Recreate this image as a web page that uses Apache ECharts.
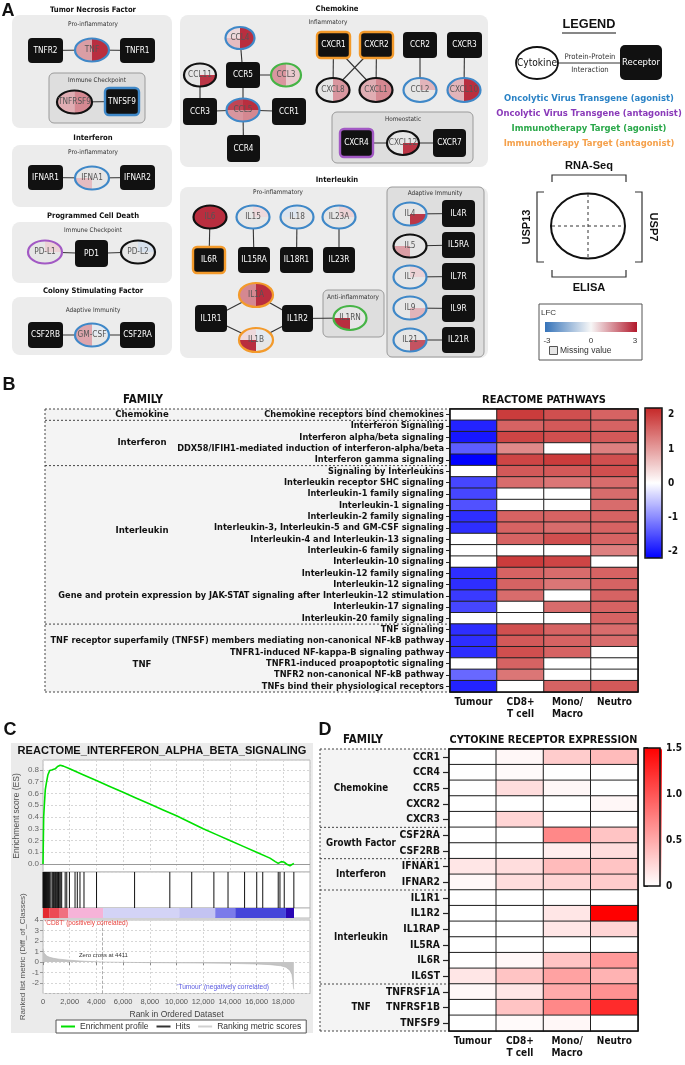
<!DOCTYPE html>
<html><head><meta charset="utf-8">
<script src="https://cdn.jsdelivr.net/npm/echarts@6/dist/echarts.min.js"></script>
<style>html,body{margin:0;padding:0;background:#fff}#c{width:685px;height:1065px}</style>
</head><body><div id="c"></div>
<script>
// ---------------- DATA ----------------
const cellTypes = ['Tumour', 'CD8+\nT cell', 'Mono/\nMacro', 'Neutro'];

const reactomePathways = [
  'Chemokine receptors bind chemokines',
  'Interferon Signaling',
  'Interferon alpha/beta signaling',
  'DDX58/IFIH1-mediated induction of interferon-alpha/beta',
  'Interferon gamma signaling',
  'Signaling by Interleukins',
  'Interleukin receptor SHC signaling',
  'Interleukin-1 family signaling',
  'Interleukin-1 signaling',
  'Interleukin-2 family signaling',
  'Interleukin-3, Interleukin-5 and GM-CSF signaling',
  'Interleukin-4 and Interleukin-13 signaling',
  'Interleukin-6 family signaling',
  'Interleukin-10 signaling',
  'Interleukin-12 family signaling',
  'Interleukin-12 signaling',
  'Gene and protein expression by JAK-STAT signaling after Interleukin-12 stimulation',
  'Interleukin-17 signaling',
  'Interleukin-20 family signaling',
  'TNF signaling',
  'TNF receptor superfamily (TNFSF) members mediating non-canonical NF-kB pathway',
  'TNFR1-induced NF-kappa-B signaling pathway',
  'TNFR1-induced proapoptotic signaling',
  'TNFR2 non-canonical NF-kB pathway',
  'TNFs bind their physiological receptors'
];
// family name, first row, last row
const reactomeFamilies = [['Chemokine', 0, 0], ['Interferon', 1, 4], ['Interleukin', 5, 18], ['TNF', 19, 24]];
// Tumour, CD8+ T cell, Mono/Macro, Neutro
const reactomeScores = [
  [0, 2.0, 1.8, 1.6],
  [-1.9, 1.6, 1.7, 1.6],
  [-2.0, 1.9, 1.8, 1.7],
  [-1.4, 1.2, 0, 1.3],
  [-2.2, 1.9, 2.0, 1.8],
  [0, 1.7, 1.7, 1.8],
  [-1.6, 1.5, 1.4, 1.5],
  [-1.6, 0, 0, 1.5],
  [-1.5, 0, 0, 1.5],
  [-1.8, 1.6, 1.6, 1.6],
  [-1.8, 1.6, 1.5, 1.6],
  [0, 1.6, 1.8, 1.6],
  [0, 0, 0, 1.3],
  [0, 2.0, 1.9, 0],
  [-1.8, 1.6, 1.5, 1.6],
  [-1.8, 1.6, 1.4, 1.6],
  [-1.7, 1.5, 0, 1.6],
  [-1.6, 0, 1.5, 1.6],
  [0, 0, 0, 1.6],
  [-1.8, 1.8, 1.6, 1.5],
  [-1.8, 1.7, 1.6, 1.5],
  [-1.8, 1.8, 1.6, 0],
  [0, 1.6, 0, 0],
  [-1.3, 1.4, 0, 0],
  [-1.9, 0, 1.6, 1.7]
];
const reactomeTicks = [-2, -1, 0, 1, 2];

const receptorGenes = ['CCR1', 'CCR4', 'CCR5', 'CXCR2', 'CXCR3', 'CSF2RA', 'CSF2RB', 'IFNAR1', 'IFNAR2',
  'IL1R1', 'IL1R2', 'IL1RAP', 'IL5RA', 'IL6R', 'IL6ST', 'TNFRSF1A', 'TNFRSF1B', 'TNFSF9'];
const receptorFamilies = [['Chemokine', 0, 4], ['Growth Factor', 5, 6], ['Interferon', 7, 8], ['Interleukin', 9, 14], ['TNF', 15, 17]];
const receptorExpression = [
  [0, 0.05, 0.3, 0.4],
  [0, 0.03, 0, 0],
  [0, 0.2, 0.05, 0],
  [0, 0, 0, 0.05],
  [0, 0.25, 0, 0],
  [0, 0, 0.7, 0.35],
  [0, 0, 0.1, 0.2],
  [0.15, 0.2, 0.4, 0.35],
  [0.05, 0.2, 0.25, 0.3],
  [0, 0, 0, 0],
  [0, 0, 0.15, 1.5],
  [0, 0, 0.15, 0.25],
  [0, 0, 0, 0],
  [0, 0.05, 0.35, 0.6],
  [0.15, 0.35, 0.55, 0.45],
  [0.05, 0.15, 0.5, 0.65],
  [0, 0.35, 0.7, 1.25],
  [0, 0.03, 0.05, 0]
];
const receptorTicks = [0, 0.5, 1.0, 1.5];

// GSEA: REACTOME_INTERFERON_ALPHA_BETA_SIGNALING
const esRank = [0, 50, 100, 170, 270, 370, 500, 650, 790, 915, 1090, 1290, 1530, 2000, 3000, 4000, 5000, 6000,
  7000, 8000, 9000, 10000, 11000, 12000, 13000, 14000, 15000, 16000, 17000, 17400, 17620, 17700, 17750, 17850,
  18070, 18300, 18500, 18790];
const esScore = [0, 0.40, 0.50, 0.63, 0.70, 0.76, 0.795, 0.80, 0.80, 0.81, 0.83, 0.84, 0.833, 0.81, 0.76, 0.71,
  0.66, 0.61, 0.56, 0.51, 0.46, 0.41, 0.355, 0.30, 0.25, 0.20, 0.15, 0.10, 0.05, 0.02, 0.005, 0.012, 0.01, 0.02,
  0.015, -0.005, -0.015, 0.005];
const hitRanks = [10, 25, 40, 60, 80, 100, 125, 150, 180, 210, 240, 275, 310, 350, 390, 430, 470, 520, 600, 700,
  780, 850, 930, 1000, 1080, 1160, 1250, 1330, 1400, 1660, 1780, 1980, 2400, 2570, 2770, 3070, 4010, 6860, 9500,
  11140, 12800, 13860, 15100, 16010, 16460, 17620, 17750, 18070, 18790];
const metricRank = [0, 30, 80, 150, 300, 500, 800, 1200, 2000, 3000, 4411, 6000, 8000, 10000, 12000, 14000, 16000,
  17000, 17800, 18200, 18500, 18650, 18720, 18760, 18790];
const metricValue = [1.25, 1.05, 0.85, 0.7, 0.55, 0.45, 0.35, 0.27, 0.17, 0.08, 0, -0.03, -0.06, -0.08, -0.1, -0.13,
  -0.19, -0.25, -0.36, -0.5, -0.8, -1.2, -1.8, -2.4, -2.6];
const rankBarBreaks = [0, 500, 1200, 1900, 4500, 10200, 12900, 14400, 18200, 18800];
const rankBarColors = ['#e42a30', '#ec4a55', '#f07080', '#f6b3d8', '#d3d3f6', '#c3c3f2', '#7b7bea', '#4545da', '#2a06b4'];
const zeroCross = 4411;

// Panel A: cytokine LFC quadrants [RNA-Seq USP13, RNA-Seq USP7, ELISA USP13, ELISA USP7]; null = missing
const cytokineLFC = {
  'TNF': [1.2, 2.7, 1.2, 2.7], 'TNFRSF9': [1.0, 1.5, 1.0, 1.5], 'IFNA1': [null, null, 0.8, null],
  'PD-L1': [null, 0.5, null, null], 'PD-L2': [null, -0.5, null, null], 'GM-CSF': [1.1, -0.3, 1.1, null],
  'CCL4': [0.4, 2.7, 0.8, 2.7], 'CCL11': [null, null, null, 2.6], 'CCL3': [1.3, 0.6, 1.3, 0.6],
  'CCL5': [2.4, 2.7, 1.3, 1.5], 'CXCL8': [null, 1.3, null, 1.3], 'CXCL1': [1.0, 1.5, 1.0, 1.5],
  'CCL2': [null, 0.9, null, null], 'CXCL10': [0.9, 2.7, 0.9, 2.7], 'CXCL12': [null, null, null, 2.6],
  'IL6': [2.7, 2.7, 2.7, 2.7], 'IL15': [null, 0.4, null, null], 'IL18': [-0.4, null, null, null],
  'IL23A': [null, 0.5, null, null], 'IL1A': [1.5, 2.7, 1.5, 2.7], 'IL1B': [0.4, -0.3, 2.7, null],
  'IL1RN': [null, null, 2.7, null], 'IL4': [null, null, null, 2.6], 'IL5': [null, null, 1.2, null],
  'IL7': [null, 0.5, null, null], 'IL9': [null, null, null, 0.9], 'IL21': [null, null, null, 2.2]
};
const interactions = [
  ['TNFR2', 'TNF'], ['TNF', 'TNFR1'], ['TNFRSF9', 'TNFSF9'], ['IFNAR1', 'IFNA1'], ['IFNA1', 'IFNAR2'],
  ['PD-L1', 'PD1'], ['PD1', 'PD-L2'], ['CSF2RB', 'GM-CSF'], ['GM-CSF', 'CSF2RA'],
  ['CCL4', 'CCR5'], ['CCL11', 'CCR3'], ['CCR5', 'CCL3'], ['CCR5', 'CCL5'], ['CCR3', 'CCL5'], ['CCL5', 'CCR1'],
  ['CCL5', 'CCR4'], ['CXCR1', 'CXCL8'], ['CXCR1', 'CXCL1'], ['CXCR2', 'CXCL8'], ['CXCR2', 'CXCL1'],
  ['CCR2', 'CCL2'], ['CXCR3', 'CXCL10'], ['CXCR4', 'CXCL12'], ['CXCL12', 'CXCR7'],
  ['IL6', 'IL6R'], ['IL15', 'IL15RA'], ['IL18', 'IL18R1'], ['IL23A', 'IL23R'], ['IL1R1', 'IL1A'], ['IL1A', 'IL1R2'],
  ['IL1R1', 'IL1B'], ['IL1B', 'IL1R2'], ['IL1R2', 'IL1RN'],
  ['IL4', 'IL4R'], ['IL5', 'IL5RA'], ['IL7', 'IL7R'], ['IL9', 'IL9R'], ['IL21', 'IL21R']
];

// ---------------- LAYOUT / STYLE ----------------
const NARROW = "'Liberation Sans Narrow','Arial Narrow','DejaVu Sans Condensed','Liberation Sans',sans-serif";
const SANS = "'Liberation Sans',Arial,sans-serif";
const C_BLUE = '#3f88c8', C_ORANGE = '#f39a2b', C_GREEN = '#46b446', C_PURPLE = '#a259c4', C_BLACK = '#111';
const LFC_LOW = '#3573b9', LFC_MID = '#f7f7f7', LFC_HIGH = '#b2182b', MISSING = '#e6e6e6';

// receptors: name, cx, cy, w, h, border colour
const receptorNodes = [
  ['TNFR2', 45.5, 50.5, 35, 25, null], ['TNFR1', 137.5, 50.5, 35, 25, null], ['TNFSF9', 122, 101.5, 34, 27, C_BLUE],
  ['IFNAR1', 45.5, 177.5, 35, 25, null], ['IFNAR2', 137.5, 177.5, 35, 25, null], ['PD1', 91.5, 253.5, 33, 27, null],
  ['CSF2RB', 45.5, 335, 35, 26, null], ['CSF2RA', 137.5, 335, 35, 26, null],
  ['CCR5', 243, 75, 34, 26, null], ['CCR3', 200, 111.5, 34, 27, null], ['CCR1', 289, 111.5, 34, 27, null],
  ['CCR4', 243.5, 148.5, 33, 27, null], ['CXCR1', 333.5, 45, 33, 26, C_ORANGE], ['CXCR2', 376.5, 45, 33, 26, C_ORANGE],
  ['CCR2', 420, 45, 34, 26, null], ['CXCR3', 464.5, 45, 35, 26, null], ['CXCR4', 356.5, 143, 33, 28, C_PURPLE],
  ['CXCR7', 449.5, 143, 33, 28, null],
  ['IL6R', 209, 260, 32, 26, C_ORANGE], ['IL15RA', 254, 260, 32, 26, null], ['IL18R1', 296.5, 260, 33, 26, null],
  ['IL23R', 339, 260, 32, 26, null], ['IL1R1', 211, 318.5, 32, 27, null], ['IL1R2', 297.5, 318.5, 31, 27, null],
  ['IL4R', 458.5, 213.5, 33, 27, null], ['IL5RA', 458.5, 245, 33, 26, null], ['IL7R', 458.5, 276.5, 33, 27, null],
  ['IL9R', 458.5, 308.5, 33, 27, null], ['IL21R', 458.5, 340, 33, 26, null]
];
// cytokines: name, cx, cy, rx, ry, border colour
const cytokineNodes = [
  ['TNF', 92, 50, 17, 11.5, C_BLUE], ['TNFRSF9', 74.5, 102, 17.5, 11.5, C_BLACK], ['IFNA1', 92, 178, 17, 11.5, C_BLUE],
  ['PD-L1', 45, 252, 17, 11.5, C_PURPLE], ['PD-L2', 138, 252, 17, 11.5, C_BLACK], ['GM-CSF', 92, 335, 17, 11.5, C_BLUE],
  ['CCL4', 240, 38, 14.5, 11, C_BLUE], ['CCL11', 200, 75, 16, 11.5, C_BLACK], ['CCL3', 286, 75, 15, 11.5, C_GREEN],
  ['CCL5', 243, 110, 16.5, 11.5, C_BLUE], ['CXCL8', 333, 90, 16.5, 12, C_BLACK], ['CXCL1', 376, 90, 16.5, 12, C_BLACK],
  ['CCL2', 420, 90, 16.5, 12, C_BLUE], ['CXCL10', 464, 90, 16.5, 12, C_BLUE], ['CXCL12', 403, 143, 16, 12, C_BLACK],
  ['IL6', 210, 217, 16.5, 11.5, C_BLACK], ['IL15', 253, 217, 16.5, 11.5, C_BLUE], ['IL18', 297, 217, 16.5, 11.5, C_BLUE],
  ['IL23A', 339, 217, 16.5, 11.5, C_BLUE], ['IL1A', 256, 295, 17, 12, C_ORANGE], ['IL1B', 256, 340, 17, 12, C_ORANGE],
  ['IL1RN', 350, 318, 16.5, 12, C_GREEN], ['IL4', 410, 214, 16.5, 11.5, C_BLUE], ['IL5', 410, 246, 16.5, 11.5, C_BLACK],
  ['IL7', 410, 277, 16.5, 11.5, C_BLUE], ['IL9', 410, 308, 16.5, 11.5, C_BLUE], ['IL21', 410, 340, 16.5, 11.5, C_BLUE]
];
const outerBoxes = [[12, 15, 160, 113], [12, 145, 160, 62], [12, 222, 160, 61], [12, 297, 160, 58],
  [180, 15, 308, 152], [180, 187, 308, 171]];
const innerBoxes = [[49, 73, 96, 50], [332, 112, 141, 51], [323, 290, 61, 47], [387, 187, 97, 170]];
const boxTitles = [['Tumor Necrosis Factor', 93, 10], ['Interferon', 93, 138], ['Programmed Cell Death', 93, 216],
  ['Colony Stimulating Factor', 93, 291], ['Chemokine', 337, 9], ['Interleukin', 337, 180]];
const subTitles = [['Pro-inflammatory', 93, 24], ['Immune Checkpoint', 97, 80], ['Pro-inflammatory', 93, 152],
  ['Immune Checkpoint', 93, 230], ['Adaptive Immunity', 93, 310], ['Inflammatory', 328, 22], ['Homeostatic', 403, 119],
  ['Pro-inflammatory', 278, 192], ['Anti-inflammatory', 353, 297], ['Adaptive Immunity', 435, 193]];
const familyRowAnchorB = [0.5, 3.0, 10.7, 22.6];

const BX = 450, BY = 409, BW = 188, BH = 283;
const DX = 449, DY = 749, DW = 189, DH = 282;

// ---------------- HELPERS ----------------
const mctx = document.createElement('canvas').getContext('2d');
function fit(text, w, weight, fam, max) {
  mctx.font = (weight || 'normal') + ' 100px ' + fam;
  const s = 100 * w / mctx.measureText(text).width;
  return max ? Math.min(s, max) : s;
}
function hexRgb(h) { h = h.replace('#', ''); return [0, 2, 4].map(i => parseInt(h.slice(i, i + 2), 16)); }
function lerp(a, b, t) { const A = hexRgb(a), B = hexRgb(b); return 'rgb(' + A.map((v, i) => Math.round(v + (B[i] - v) * t)).join(',') + ')'; }
function lfcColor(v) {
  if (v === null || v === undefined) return MISSING;
  const t = Math.max(-1, Math.min(1, v / 3));
  return t < 0 ? lerp(LFC_MID, LFC_LOW, -t) : lerp(LFC_MID, LFC_HIGH, t);
}
const G = [];
function T(text, x, y, size, o) {
  o = o || {};
  G.push({ type: 'text', x: x, y: y, z: o.z || 20, rotation: o.rot || 0, silent: true,
    style: { text: text, fontSize: size, fontFamily: o.fam || NARROW, fontWeight: o.w || 'normal', fill: o.c || '#111',
      align: o.a || 'center', verticalAlign: o.va || 'middle', textAlign: o.a || 'center', textVerticalAlign: o.va || 'middle' } });
}
function R(x, y, w, h, o) {
  o = o || {};
  G.push({ type: 'rect', z: o.z || 1, silent: true, shape: { x: x, y: y, width: w, height: h, r: o.r || 0 },
    style: { fill: o.fill || 'none', stroke: o.stroke || null, lineWidth: o.lw || 0 } });
}
function Ln(x1, y1, x2, y2, o) {
  o = o || {};
  G.push({ type: 'line', z: o.z || 3, silent: true, shape: { x1: x1, y1: y1, x2: x2, y2: y2 },
    style: { stroke: o.stroke || '#333', lineWidth: o.lw || 1, lineDash: o.dash || null } });
}
function PL(pts, o) {
  o = o || {};
  G.push({ type: 'polyline', z: o.z || 3, silent: true, shape: { points: pts }, style: { stroke: o.stroke || '#333', lineWidth: o.lw || 1, fill: 'none' } });
}

// ---------------- FONT SIZES ----------------
const fsRow = fit(reactomePathways[16], 386, 'bold', NARROW, 11.5);
const fsCol = fit('Tumour', 38, 'bold', NARROW, 13);
const fsFamB = fit('Interleukin', 53, 'bold', NARROW, 14);
const fsGene = fit('TNFRSF1B', 54, 'bold', NARROW, 13);
const fsFamD = fit('Interleukin', 54, 'bold', NARROW, 14);
const fsTitleB = fit('REACTOME PATHWAYS', 124, 'bold', NARROW, 14);
const fsTitleD = fit('CYTOKINE RECEPTOR EXPRESSION', 188, 'bold', NARROW, 14);
const fsFamily = fit('FAMILY', 40, 'bold', NARROW, 14);
const fsBoxTitle = fit('Tumor Necrosis Factor', 86, 'bold', NARROW, 11);
const fsSub = fit('Pro-inflammatory', 50, 'normal', NARROW, 9);
const fsNode = fit('CSF2RB', 29, 'normal', NARROW, 8.5);

// ---------------- PANEL A ----------------
T('A', 8, 11, 18, { fam: SANS, w: 'bold' });
outerBoxes.forEach(b => R(b[0], b[1], b[2], b[3], { fill: '#ececec', r: 8, z: 1 }));
innerBoxes.forEach(b => R(b[0], b[1], b[2], b[3], { fill: '#dedede', stroke: '#9a9a9a', lw: 1, r: 5, z: 2 }));
boxTitles.forEach(t => T(t[0], t[1], t[2], fsBoxTitle, { w: 'bold' }));
subTitles.forEach(t => T(t[0], t[1], t[2], fsSub, { c: '#333' }));
const nodePos = {};
receptorNodes.forEach(n => { nodePos[n[0]] = [n[1], n[2]]; });
cytokineNodes.forEach(n => { nodePos[n[0]] = [n[1], n[2]]; });
interactions.forEach(p => { const a = nodePos[p[0]], b = nodePos[p[1]]; Ln(a[0], a[1], b[0], b[1], { stroke: '#333', lw: 1.1, z: 3 }); });
receptorNodes.forEach(n => {
  const [name, cx, cy, w, h, bc] = n;
  R(cx - w / 2, cy - h / 2, w, h, { fill: '#111', stroke: bc || '#111', lw: bc ? 2.4 : 0, r: 4, z: 4 });
  T(name, cx, cy, fsNode, { c: '#fff', z: 6 });
});
const quadAngles = [[Math.PI, 1.5 * Math.PI], [1.5 * Math.PI, 2 * Math.PI], [0.5 * Math.PI, Math.PI], [0, 0.5 * Math.PI]];
cytokineNodes.forEach(n => {
  const [name, cx, cy, rx, ry, bc] = n;
  const vals = cytokineLFC[name];
  quadAngles.forEach((ang, qi) => {
    G.push({ type: 'sector', x: cx, y: cy, scaleX: rx / ry, scaleY: 1, z: 4, silent: true,
      shape: { cx: 0, cy: 0, r0: 0, r: ry, startAngle: ang[0], endAngle: ang[1], clockwise: true },
      style: { fill: lfcColor(vals[qi]), stroke: null } });
  });
  G.push({ type: 'ellipse', z: 5, silent: true, shape: { cx: cx, cy: cy, rx: rx, ry: ry }, style: { fill: 'none', stroke: bc, lineWidth: 2.2 } });
  T(name, cx, cy, fsNode, { c: '#555', z: 6 });
});

// Legend of panel A
T('LEGEND', 589, 24, fit('LEGEND', 53, 'bold', SANS, 16), { fam: SANS, w: 'bold' });
Ln(562, 33, 616, 33, { stroke: '#111', lw: 1.2 });
Ln(558, 63, 620, 63, { stroke: '#333', lw: 1 });
G.push({ type: 'ellipse', z: 5, silent: true, shape: { cx: 537, cy: 63, rx: 21, ry: 16 }, style: { fill: '#fff', stroke: '#111', lineWidth: 1.8 } });
T('Cytokine', 537, 63, fit('Cytokine', 40, 'normal', NARROW, 11), { z: 21 });
R(620, 45, 42, 35, { fill: '#111', r: 5, z: 4 });
T('Receptor', 641, 62.5, fit('Receptor', 38, 'normal', NARROW, 11), { c: '#fff' });
T('Protein-Protein', 590, 57, fit('Protein-Protein', 51, 'normal', NARROW, 9), { c: '#333' });
T('Interaction', 590, 70, fit('Protein-Protein', 51, 'normal', NARROW, 9), { c: '#333' });
const fsLeg = fit('Oncolytic Virus Transgene (antagonist)', 186, 'bold', NARROW, 12);
T('Oncolytic Virus Transgene (agonist)', 589, 99, fsLeg, { w: 'bold', c: '#2b83c6' });
T('Oncolytic Virus Transgene (antagonist)', 589, 114, fsLeg, { w: 'bold', c: '#8a3ab9' });
T('Immunotherapy Target (agonist)', 589, 129, fsLeg, { w: 'bold', c: '#2aa84a' });
T('Immunotherapy Target (antagonist)', 589, 144, fsLeg, { w: 'bold', c: '#f5a04a' });
const fsRNA = fit('RNA-Seq', 48, 'bold', SANS, 14);
T('RNA-Seq', 589, 166, fsRNA, { fam: SANS, w: 'bold' });
T('ELISA', 589, 288, fsRNA, { fam: SANS, w: 'bold' });
T('USP13', 527, 227, fsRNA, { fam: SANS, w: 'bold', rot: Math.PI / 2 });
T('USP7', 653, 227, fsRNA, { fam: SANS, w: 'bold', rot: -Math.PI / 2 });
PL([[552, 182], [552, 175], [626, 175], [626, 182]], { lw: 1.2 });
PL([[552, 270], [552, 277], [626, 277], [626, 270]], { lw: 1.2 });
PL([[544, 192], [537, 192], [537, 262], [544, 262]], { lw: 1.2 });
PL([[635, 192], [642, 192], [642, 262], [635, 262]], { lw: 1.2 });
G.push({ type: 'ellipse', z: 4, silent: true, shape: { cx: 588, cy: 226, rx: 37, ry: 32.5 }, style: { fill: '#fff', stroke: '#111', lineWidth: 2 } });
Ln(588, 194, 588, 258, { stroke: '#333', lw: 1, dash: [3, 3], z: 5 });
Ln(552, 226, 624, 226, { stroke: '#333', lw: 1, dash: [3, 3], z: 5 });
R(539, 304, 103, 56, { fill: '#fff', stroke: '#555', lw: 1, z: 3 });
T('LFC', 541, 313, 8, { fam: SANS, a: 'left', c: '#333' });
G.push({ type: 'rect', z: 4, silent: true, shape: { x: 545, y: 322, width: 92, height: 10 },
  style: { fill: new echarts.graphic.LinearGradient(0, 0, 1, 0, [{ offset: 0, color: LFC_LOW }, { offset: 0.5, color: LFC_MID }, { offset: 1, color: LFC_HIGH }]) } });
T('-3', 547, 341, 8, { fam: SANS, c: '#333' });
T('0', 591, 341, 8, { fam: SANS, c: '#333' });
T('3', 635, 341, 8, { fam: SANS, c: '#333' });
R(549.5, 346.5, 8, 8, { fill: MISSING, stroke: '#555', lw: 1, z: 4 });
T('Missing value', 560, 351, 8.5, { fam: SANS, a: 'left', c: '#333' });

// ---------------- PANEL B decorations ----------------
const rhB = BH / reactomePathways.length;
T('B', 9, 385, 18, { fam: SANS, w: 'bold' });
T('FAMILY', 143, 400, fsFamily, { w: 'bold' });
T('REACTOME PATHWAYS', BX + BW / 2, 400, fsTitleB, { w: 'bold' });
R(45, BY, BX - 45, BH, { fill: '#f4f4f4', z: -10 });
const dashB = { stroke: '#444', lw: 1, dash: [2, 2], z: 2 };
Ln(45, BY, BX, BY, dashB); Ln(45, BY + BH, BX, BY + BH, dashB); Ln(45, BY, 45, BY + BH, dashB);
reactomeFamilies.forEach((f, i) => {
  if (i > 0) Ln(45, BY + f[1] * rhB, BX, BY + f[1] * rhB, dashB);
  T(f[0], 142, BY + familyRowAnchorB[i] * rhB, fsFamB, { w: 'bold' });
});

// ---------------- PANEL D decorations ----------------
const rhD = DH / receptorGenes.length;
T('D', 325, 730, 18, { fam: SANS, w: 'bold' });
T('FAMILY', 363, 740, fsFamily, { w: 'bold' });
T('CYTOKINE RECEPTOR EXPRESSION', DX + DW / 2, 740, fsTitleD, { w: 'bold' });
R(320, DY, DX - 320, DH, { fill: '#f4f4f4', z: -10 });
Ln(320, DY, DX, DY, dashB); Ln(320, DY + DH, DX, DY + DH, dashB); Ln(320, DY, 320, DY + DH, dashB);
receptorFamilies.forEach((f, i) => {
  if (i > 0) Ln(320, DY + f[1] * rhD, DX, DY + f[1] * rhD, dashB);
  T(f[0], 361, DY + (f[1] + f[2] + 1) / 2 * rhD, fsFamD, { w: 'bold' });
});

// ---------------- PANEL C decorations ----------------
T('C', 10, 730, 18, { fam: SANS, w: 'bold' });
R(11, 743, 302, 290, { fill: '#ebebeb', z: -10 });
T('REACTOME_INTERFERON_ALPHA_BETA_SIGNALING', 162, 751, fit('REACTOME_INTERFERON_ALPHA_BETA_SIGNALING', 289, 'bold', SANS, 13), { fam: SANS, w: 'bold' });
T("'CD8T' (positively correlated)", 45, 923, fit("'CD8T' (positively correlated)", 83, 'normal', SANS, 8), { fam: SANS, a: 'left', c: '#e8413c' });
T('Zero cross at 4411', 79, 955, fit('Zero cross at 4411', 49, 'normal', SANS, 8), { fam: SANS, a: 'left', c: '#333' });
T("'Tumour' (negatively correlated)", 269, 987, fit("'Tumour' (negatively correlated)", 92, 'normal', SANS, 8), { fam: SANS, a: 'right', c: '#5a5ae0' });

// ---------------- CHART OPTION ----------------
const heatB = reactomeScores.flatMap((row, r) => row.map((v, c) => [c, r, v]));
const heatD = receptorExpression.flatMap((row, r) => row.map((v, c) => [c, r, v]));
const esData = esRank.map((r, i) => [r, esScore[i]]);
const metricData = metricRank.map((r, i) => [r, metricValue[i]]);
const barSegs = rankBarColors.map((c, i) => [rankBarBreaks[i], rankBarBreaks[i + 1], i]);

const catX = (gi) => ({ gridIndex: gi, type: 'category', data: cellTypes, axisLine: { show: false }, axisTick: { show: false },
  axisLabel: { interval: 0, fontSize: fsCol, fontWeight: 'bold', fontFamily: NARROW, color: '#111', lineHeight: fsCol * 1.25, margin: 4 } });
const hidX = (gi, max) => ({ gridIndex: gi, type: 'value', min: 0, max: max, show: false });
const dashSplit = { show: true, lineStyle: { color: '#d6d6d6', type: [2, 2], width: 1 } };

const option = {
  animation: false,
  backgroundColor: '#fff',
  graphic: { elements: G },
  grid: [
    { left: BX, top: BY, width: BW, height: BH, show: true, borderColor: '#111', borderWidth: 1.5, backgroundColor: 'transparent', z: 5 },
    { left: 645, top: 408, width: 17, height: 150, show: true, borderColor: '#111', borderWidth: 1.5, backgroundColor: 'transparent', z: 6 },
    { left: DX, top: DY, width: DW, height: DH, show: true, borderColor: '#111', borderWidth: 1.5, backgroundColor: 'transparent', z: 5 },
    { left: 644, top: 748, width: 18, height: 138, show: true, borderColor: '#111', borderWidth: 1.5, backgroundColor: 'transparent', z: 6 },
    { left: 43, top: 760, width: 267, height: 112, show: true, borderColor: '#b8b8b8', borderWidth: 1, backgroundColor: '#fff' },
    { left: 43, top: 872, width: 267, height: 36, show: true, borderColor: '#b8b8b8', borderWidth: 1, backgroundColor: '#fff' },
    { left: 43, top: 908, width: 267, height: 10, show: true, borderColor: '#b8b8b8', borderWidth: 1, backgroundColor: '#fff' },
    { left: 43, top: 920, width: 267, height: 73.5, show: true, borderColor: '#b8b8b8', borderWidth: 1, backgroundColor: '#fff' }
  ],
  xAxis: [
    catX(0), hidX(1, 1), catX(2), hidX(3, 1),
    { gridIndex: 4, type: 'value', min: 0, max: 20000, interval: 2000, axisLabel: { show: false }, axisTick: { show: false }, axisLine: { show: false }, splitLine: dashSplit },
    hidX(5, 20000), hidX(6, 20000),
    { gridIndex: 7, type: 'value', min: 0, max: 20000, interval: 2000, axisLine: { show: false }, splitLine: dashSplit,
      axisTick: { show: true, length: 3, lineStyle: { color: '#888' } },
      axisLabel: { showMaxLabel: false, fontSize: 7.5, color: '#555', margin: 4, fontFamily: SANS, formatter: v => v.toLocaleString('en-US') },
      name: 'Rank in Ordered Dataset', nameLocation: 'middle', nameGap: 17, nameTextStyle: { fontSize: 8.5, color: '#444', fontFamily: SANS } }
  ],
  yAxis: [
    { gridIndex: 0, type: 'category', data: reactomePathways, inverse: true, axisLine: { show: false },
      axisTick: { show: true, alignWithLabel: true, length: 4, lineStyle: { color: '#222' } },
      axisLabel: { interval: 0, fontSize: fsRow, fontFamily: NARROW, fontWeight: 'bold', color: '#111', margin: 6 } },
    { gridIndex: 1, type: 'value', min: -2.2, max: 2.2, position: 'right', axisLine: { show: false }, splitLine: { show: false },
      axisTick: { show: true, length: 4, customValues: reactomeTicks, lineStyle: { color: '#111', width: 1.5 } },
      axisLabel: { customValues: reactomeTicks, fontSize: fsCol, fontWeight: 'bold', fontFamily: NARROW, color: '#111', margin: 6 } },
    { gridIndex: 2, type: 'category', data: receptorGenes, inverse: true, axisLine: { show: false },
      axisTick: { show: true, alignWithLabel: true, length: 6, lineStyle: { color: '#222', width: 1.2 } },
      axisLabel: { interval: 0, fontSize: fsGene, fontFamily: NARROW, fontWeight: 'bold', color: '#111', margin: 9 } },
    { gridIndex: 3, type: 'value', min: 0, max: 1.5, position: 'right', axisLine: { show: false }, splitLine: { show: false },
      axisTick: { show: true, length: 4, customValues: receptorTicks, lineStyle: { color: '#111', width: 1.5 } },
      axisLabel: { customValues: receptorTicks, fontSize: fsCol, fontWeight: 'bold', fontFamily: NARROW, color: '#111', margin: 6,
        formatter: v => (v === 0 ? '0' : v.toFixed(1)) } },
    { gridIndex: 4, type: 'value', min: -0.068, max: 0.885, splitNumber: 10, axisLine: { show: false }, splitLine: dashSplit,
      axisTick: { show: true, length: 3, lineStyle: { color: '#999' } },
      axisLabel: { showMinLabel: false, showMaxLabel: false, fontSize: 8, color: '#666', margin: 4, fontFamily: SANS, formatter: v => v.toFixed(1) },
      name: 'Enrichment score (ES)', nameLocation: 'middle', nameGap: 22, nameTextStyle: { fontSize: 8.5, color: '#555', fontFamily: SANS } },
    { gridIndex: 5, type: 'value', min: 0, max: 1, show: false },
    { gridIndex: 6, type: 'value', min: 0, max: 1, show: false },
    { gridIndex: 7, type: 'value', min: -3, max: 4, interval: 1, axisLine: { show: false }, splitLine: dashSplit,
      axisTick: { show: true, length: 3, lineStyle: { color: '#999' } },
      axisLabel: { showMinLabel: false, fontSize: 8, color: '#666', margin: 4, fontFamily: SANS },
      name: 'Ranked list metric (Diff_of_Classes)', nameLocation: 'middle', nameGap: 16, nameTextStyle: { fontSize: 8, color: '#555', fontFamily: SANS } }
  ],
  visualMap: [
    { type: 'continuous', seriesIndex: 0, min: -2.2, max: 2.2, calculable: false, orient: 'vertical', left: 645, top: 408,
      itemWidth: 17, itemHeight: 150, padding: 0, hoverLink: false, inRange: { color: ['#0000ff', '#ffffff', '#c62828'] } },
    { type: 'continuous', seriesIndex: 1, min: 0, max: 1.5, calculable: false, orient: 'vertical', left: 644, top: 748,
      itemWidth: 18, itemHeight: 138, padding: 0, hoverLink: false, inRange: { color: ['#ffffff', '#ff0000'] } }
  ],
  legend: {
    left: 56, top: 1020, padding: [2, 5], itemGap: 8, itemWidth: 14, itemHeight: 2, icon: 'rect',
    borderColor: '#555', borderWidth: 1, backgroundColor: '#fff', selectedMode: false,
    textStyle: { fontSize: 8.5, color: '#333', fontFamily: SANS },
    data: ['Enrichment profile', 'Hits', 'Ranking metric scores']
  },
  series: [
    { type: 'heatmap', xAxisIndex: 0, yAxisIndex: 0, data: heatB, itemStyle: { borderColor: '#222', borderWidth: 1 }, emphasis: { disabled: true } },
    { type: 'heatmap', xAxisIndex: 2, yAxisIndex: 2, data: heatD, itemStyle: { borderColor: '#222', borderWidth: 1 }, emphasis: { disabled: true } },
    { name: 'Enrichment profile', type: 'line', xAxisIndex: 4, yAxisIndex: 4, data: esData, showSymbol: false, z: 5,
      lineStyle: { color: '#00e000', width: 1.6 }, itemStyle: { color: '#00e000' },
      markLine: { silent: true, symbol: ['none', 'none'], label: { show: false }, lineStyle: { color: '#999', type: 'solid', width: 1 }, data: [{ yAxis: 0 }] } },
    { name: 'Hits', type: 'custom', xAxisIndex: 5, yAxisIndex: 5, data: hitRanks.map(r => [r, 0]), itemStyle: { color: '#333' },
      renderItem: (params, api) => {
        const a = api.coord([api.value(0), 0]), b = api.coord([api.value(0), 1]);
        return { type: 'line', shape: { x1: a[0], y1: a[1], x2: b[0], y2: b[1] }, style: { stroke: '#111', lineWidth: 1 } };
      } },
    { type: 'custom', xAxisIndex: 6, yAxisIndex: 6, data: barSegs,
      renderItem: (params, api) => {
        const a = api.coord([api.value(0), 1]), b = api.coord([api.value(1), 0]);
        return { type: 'rect', shape: { x: a[0], y: a[1], width: b[0] - a[0], height: b[1] - a[1] }, style: { fill: rankBarColors[api.value(2)] } };
      } },
    { name: 'Ranking metric scores', type: 'line', xAxisIndex: 7, yAxisIndex: 7, data: metricData, showSymbol: false,
      lineStyle: { color: '#b4b4b4', width: 0.6 }, itemStyle: { color: '#d0d0d0' }, areaStyle: { color: '#c4c4c4', opacity: 1 },
      markLine: { silent: true, symbol: ['none', 'none'], label: { show: false }, lineStyle: { color: '#999', type: 'dashed', width: 0.8 }, data: [{ xAxis: zeroCross }] } }
  ]
};
const chart = echarts.init(document.getElementById('c'), null, { renderer: 'canvas', width: 685, height: 1065 });
chart.setOption(option);
</script></body></html>
